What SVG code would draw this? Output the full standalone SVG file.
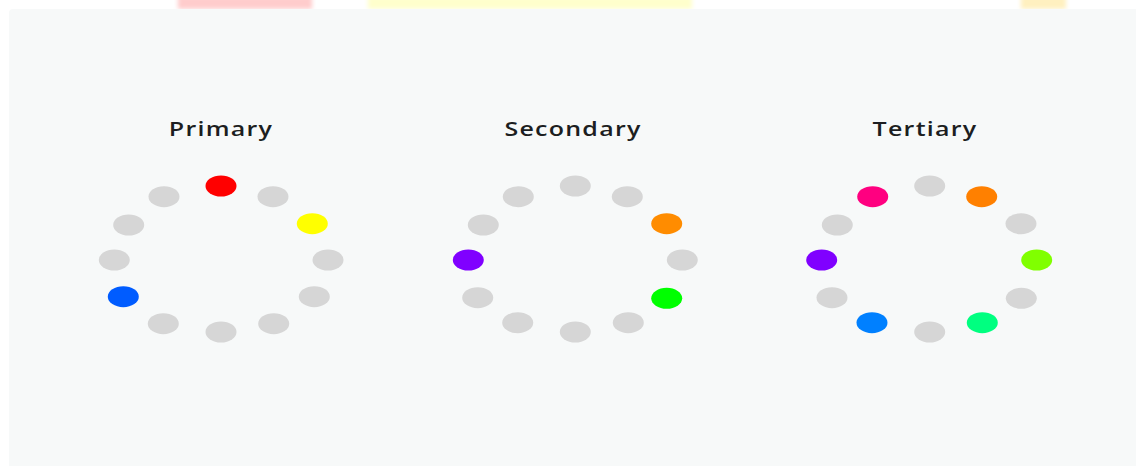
<svg xmlns="http://www.w3.org/2000/svg" width="1136" height="466" viewBox="0 0 1136 466">
  <defs>
    <filter id="blur" x="-20%" y="-100%" width="140%" height="300%">
      <feGaussianBlur stdDeviation="2"/>
    </filter>
  </defs>
  <style>
    .title { font-family: "Open Sans", "Noto Sans", sans-serif; font-size: 20px; font-weight: 600; fill: #1c1e21; text-anchor: middle; letter-spacing: 1px; }
    .off { fill: #d6d6d6; }
  </style>
  <rect x="0" y="0" width="1136" height="466" fill="#ffffff"/>
  <g id="top-artifacts" filter="url(#blur)">
    <rect x="178" y="-4" width="134" height="13" fill="#ffcccc"/>
    <rect x="368" y="-4" width="324" height="13" fill="#ffffcc"/>
    <rect x="1021" y="-4" width="45" height="13" fill="#fff0c0"/>
  </g>
  <rect id="panel" x="9" y="9" width="1140" height="470" rx="4" fill="#f7f9f9"/>

  <g id="primary">
    <text class="title" transform="translate(221 135.5) scale(1.25 1)">Primary</text>
    <ellipse cx="221" cy="186" rx="15.5" ry="10.5" fill="#ff0000"/>
    <ellipse class="off" cx="273" cy="196.7" rx="15.5" ry="10.5"/>
    <ellipse cx="312.3" cy="223.7" rx="15.5" ry="10.5" fill="#ffff00"/>
    <ellipse class="off" cx="328" cy="260" rx="15.5" ry="10.5"/>
    <ellipse class="off" cx="314.3" cy="296.7" rx="15.5" ry="10.5"/>
    <ellipse class="off" cx="273.7" cy="323.7" rx="15.5" ry="10.5"/>
    <ellipse class="off" cx="221" cy="332" rx="15.5" ry="10.5"/>
    <ellipse class="off" cx="163.3" cy="323.7" rx="15.5" ry="10.5"/>
    <ellipse cx="123.3" cy="296.7" rx="15.5" ry="10.5" fill="#005cff"/>
    <ellipse class="off" cx="114.3" cy="260" rx="15.5" ry="10.5"/>
    <ellipse class="off" cx="128.7" cy="225" rx="15.5" ry="10.5"/>
    <ellipse class="off" cx="164" cy="196.7" rx="15.5" ry="10.5"/>
  </g>

  <g id="secondary">
    <text class="title" transform="translate(573 135.5) scale(1.25 1)">Secondary</text>
    <ellipse class="off" cx="575.3" cy="186" rx="15.5" ry="10.5"/>
    <ellipse class="off" cx="627.3" cy="196.7" rx="15.5" ry="10.5"/>
    <ellipse cx="666.7" cy="223.7" rx="15.5" ry="10.5" fill="#ff8c00"/>
    <ellipse class="off" cx="682.3" cy="260" rx="15.5" ry="10.5"/>
    <ellipse cx="666.7" cy="298.3" rx="15.5" ry="10.5" fill="#00ff00"/>
    <ellipse class="off" cx="628.3" cy="322.7" rx="15.5" ry="10.5"/>
    <ellipse class="off" cx="575.3" cy="332" rx="15.5" ry="10.5"/>
    <ellipse class="off" cx="517.7" cy="322.7" rx="15.5" ry="10.5"/>
    <ellipse class="off" cx="477.7" cy="297.7" rx="15.5" ry="10.5"/>
    <ellipse cx="468.3" cy="260" rx="15.5" ry="10.5" fill="#8000ff"/>
    <ellipse class="off" cx="483.3" cy="225" rx="15.5" ry="10.5"/>
    <ellipse class="off" cx="518.3" cy="196.7" rx="15.5" ry="10.5"/>
  </g>

  <g id="tertiary">
    <text class="title" transform="translate(925 135.5) scale(1.25 1)">Tertiary</text>
    <ellipse class="off" cx="929.7" cy="186" rx="15.5" ry="10.5"/>
    <ellipse cx="981.7" cy="196.7" rx="15.5" ry="10.5" fill="#ff8000"/>
    <ellipse class="off" cx="1021" cy="223.7" rx="15.5" ry="10.5"/>
    <ellipse cx="1036.7" cy="260" rx="15.5" ry="10.5" fill="#80ff00"/>
    <ellipse class="off" cx="1021.3" cy="298.3" rx="15.5" ry="10.5"/>
    <ellipse cx="982.3" cy="322.7" rx="15.5" ry="10.5" fill="#00ff80"/>
    <ellipse class="off" cx="929.7" cy="332" rx="15.5" ry="10.5"/>
    <ellipse cx="872" cy="322.7" rx="15.5" ry="10.5" fill="#0080ff"/>
    <ellipse class="off" cx="832" cy="297.7" rx="15.5" ry="10.5"/>
    <ellipse cx="821.7" cy="260" rx="15.5" ry="10.5" fill="#8000ff"/>
    <ellipse class="off" cx="837.3" cy="225" rx="15.5" ry="10.5"/>
    <ellipse cx="872.7" cy="196.7" rx="15.5" ry="10.5" fill="#ff0080"/>
  </g>
</svg>
